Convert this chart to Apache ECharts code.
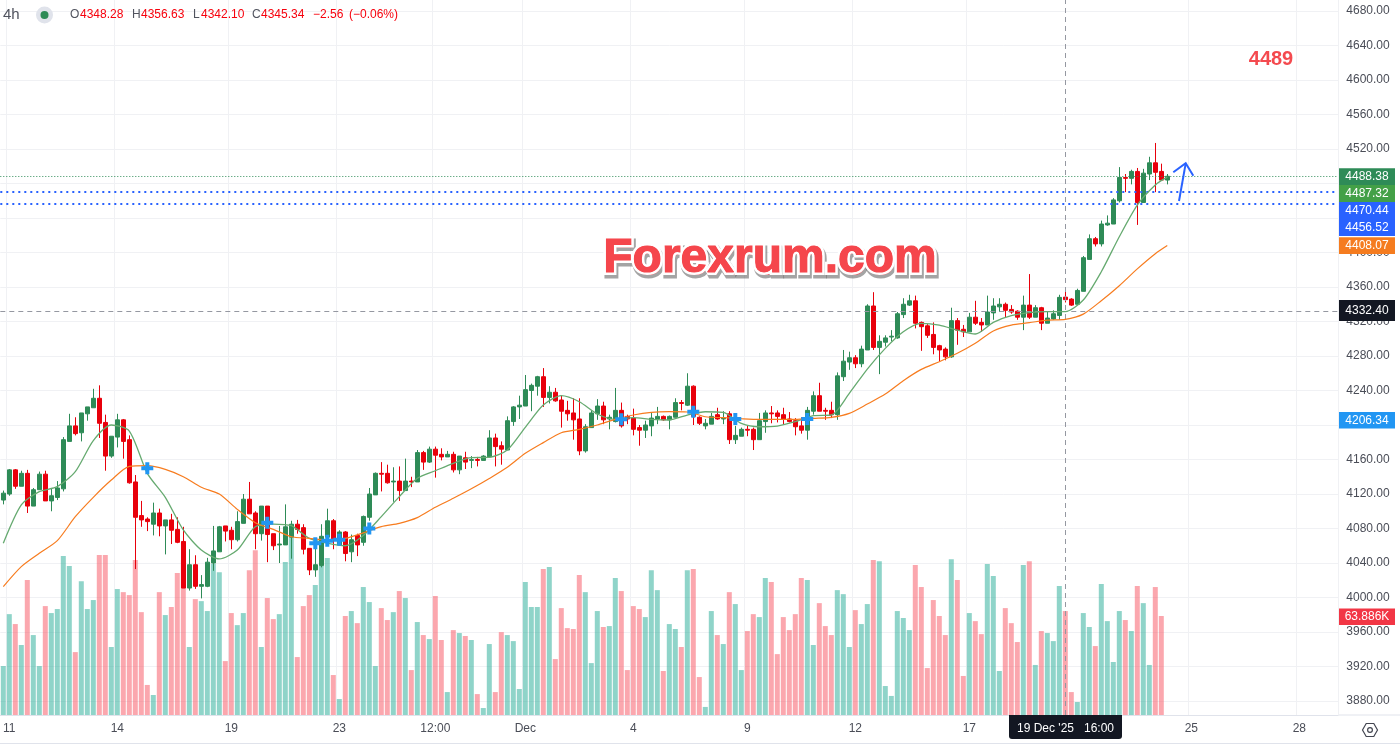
<!DOCTYPE html>
<html lang="en">
<head>
<meta charset="UTF-8">
<title>4h</title>
<script src="https://cdn.jsdelivr.net/npm/echarts@6/dist/echarts.min.js"></script>
<style>
    * { margin: 0; padding: 0 }
    html, body { width: 100%; height: 100%; background: #fff; }
    #main { width: 1400px; height: 748px; }
</style>
</head>
<body>
<div id="main"></div>
<script>
// candles
const opens = [4113,4120,4148,4129,4144,4106,4125,4143,4112,4116,4126,4181,4199,4191,4213,4220,4231,4203,4164,4186,
4206,4183,4134,4095,4091,4085,4098,4083,4090,4079,4065,4011,4038,4013,4013,4040,4053,4083,4078,4067,
4086,4114,4098,4074,4106,4074,4061,4061,4070,4085,4081,4057,4032,4037,4070,4089,4061,4076,4053,4072,
4064,4093,4119,4144,4144,4134,4135,4124,4135,4134,4168,4157,4172,4166,4163,4166,4148,4162,4159,4160,
4159,4163,4185,4176,4171,4204,4221,4222,4240,4245,4256,4232,4238,4229,4217,4214,4207,4170,4197,4213,
4222,4207,4204,4217,4210,4208,4197,4194,4199,4207,4210,4206,4209,4226,4223,4245,4209,4199,4201,4212,
4207,4213,4183,4187,4195,4195,4183,4204,4214,4214,4212,4207,4205,4199,4194,4216,4234,4217,4217,4212,
4256,4273,4278,4271,4287,4338,4290,4296,4302,4301,4328,4339,4344,4319,4315,4305,4292,4288,4279,4321,
4311,4308,4325,4319,4316,4330,4337,4340,4334,4332,4325,4339,4325,4336,4318,4323,4327,4348.28,4346,4340,
4355,4392,4416,4410,4432,4433,4460,4487,4486,4494,4458,4491,4504,4494,4484];
const closes = [4121,4148,4129,4144,4106,4125,4143,4112,4118,4127,4183,4199,4190,4214,4221,4231,4202,4164,4187,4206,
4181,4133,4093,4090,4088,4098,4083,4090,4078,4064,4011,4038,4013,4015,4041,4054,4082,4077,4067,4088,
4114,4097,4074,4106,4073,4060,4062,4082,4085,4079,4056,4032,4038,4071,4089,4068,4076,4051,4067,4061,
4094,4120,4144,4143,4133,4135,4124,4135,4134,4168,4157,4172,4165,4163,4166,4148,4164,4157,4160,4159,
4164,4185,4175,4172,4205,4221,4223,4241,4246,4256,4232,4238,4228,4216,4213,4206,4170,4198,4214,4222,
4206,4209,4217,4199,4207,4195,4194,4200,4208,4210,4206,4210,4226,4225,4245,4210,4202,4202,4210,4207,
4208,4183,4188,4195,4194,4183,4205,4214,4213,4210,4207,4204,4198,4194,4217,4234,4216,4216,4212,4257,
4274,4278,4271,4288,4338,4290,4297,4301,4303,4329,4340,4344,4318,4314,4304,4290,4287,4279,4321,4310,
4308,4325,4318,4316,4331,4338,4340,4333,4331,4325,4339,4325,4336,4318,4324,4329,4348,4345.34,4339,4356,
4394,4416,4410,4433,4434,4461,4487,4486,4494,4458,4492,4504,4493,4484,4488.38];
const lows = [4108,4118,4126,4129,4098,4106,4125,4112,4100,4113,4123,4181,4188,4181,4205,4220,4185,4147,4162,4174,
4161,4132,4033,4082,4077,4072,4071,4050,4062,4063,4011,4008,4010,3999,4012,4031,4053,4065,4056,4065,
4086,4097,4056,4066,4041,4055,4040,4061,4045,4074,4050,4026,4024,4035,4060,4056,4061,4042,4041,4048,
4060,4089,4119,4123,4132,4111,4112,4124,4128,4134,4148,4156,4139,4159,4163,4145,4143,4149,4150,4152,
4159,4163,4152,4154,4171,4199,4207,4222,4216,4234,4221,4225,4227,4197,4205,4183,4165,4168,4197,4206,
4201,4195,4203,4197,4201,4188,4176,4185,4187,4201,4205,4195,4209,4217,4222,4200,4200,4195,4201,4206,
4201,4178,4178,4187,4187,4171,4183,4191,4202,4203,4200,4203,4188,4190,4183,4212,4216,4206,4208,4206,
4251,4264,4266,4267,4287,4287,4259,4291,4297,4300,4324,4338,4312,4286,4301,4282,4274,4275,4278,4293,
4302,4308,4316,4308,4316,4322,4331,4325,4329,4322,4310,4323,4325,4310,4318,4322,4322,4342.10,4338,4339,
4355,4392,4407,4407,4431,4433,4458,4470,4479,4432,4458,4484,4470,4483,4479];
const highs = [4124,4149,4149,4147,4148,4127,4146,4147,4126,4135,4186,4213,4209,4214,4221,4242,4246,4212,4187,4213,
4207,4188,4142,4112,4093,4110,4103,4090,4097,4093,4082,4056,4049,4026,4046,4083,4083,4083,4082,4100,
4120,4134,4100,4106,4106,4074,4083,4108,4089,4090,4085,4057,4067,4085,4103,4091,4078,4077,4073,4074,
4095,4127,4145,4157,4154,4151,4152,4161,4140,4171,4170,4175,4175,4173,4170,4169,4164,4169,4164,4163,
4165,4194,4190,4181,4210,4222,4234,4258,4248,4257,4266,4245,4243,4234,4228,4231,4231,4201,4217,4230,
4227,4212,4243,4226,4212,4219,4200,4205,4214,4221,4211,4211,4231,4229,4260,4246,4210,4207,4214,4220,
4216,4216,4199,4197,4199,4197,4214,4217,4222,4217,4220,4215,4208,4209,4221,4239,4249,4220,4227,4261,
4287,4285,4281,4292,4340,4354,4304,4304,4310,4331,4347,4351,4350,4320,4317,4319,4293,4290,4336,4324,
4316,4330,4344,4324,4350,4347,4347,4342,4339,4333,4350,4375,4339,4337,4332,4333,4351,4356.63,4347,4358,
4396,4421,4418,4437,4443,4463,4499,4491,4496,4498,4497,4511,4527,4503,4491];
// volume in thousands, the last candle has no bar yet
const volumes = [31.6,65.1,58.7,45.2,87.1,51.6,31.6,70.3,65.8,68.4,102.6,96.1,40.6,86.4,68.4,74.2,103.2,103.2,43.9,81.3,
79.3,77.4,100,66.4,19.4,12.9,79.3,64.5,69.7,91.6,100,43.9,74.8,73.5,67.1,97.6,92.2,34.8,65.8,58,
65.8,93.5,106.4,43.9,75.5,61.9,65.1,98.7,114.8,37.4,70.3,77.4,83.9,96.1,101.3,25.8,10.3,63.9,67.1,59.3,
82.6,72.9,31.6,69,61.3,66.4,80,75.5,29,60,51.6,49,76.8,48.4,14.8,54.8,52.9,51,48.4,13.5,
4.5,45.8,14.8,53.5,51.6,47.7,16.8,85.8,69.7,69.7,94.2,95.5,36.1,69,56.1,55.5,90.3,79.3,33.5,67.1,
56.8,57.4,88.4,80,29,70.3,68.4,63.2,93.5,80.6,28.4,58.7,55.5,43.9,93.5,94.2,24.5,5.2,67.1,51.6,
45.8,79.3,71.6,29,54.2,65.1,63.2,88.4,85.8,39.3,63.2,54.8,65.1,88.4,87.1,45.2,72.2,57.4,51.6,80.6,
78,43.9,67.7,58.7,71.6,100,99.3,18.7,12.3,67.1,62.6,54.8,96.8,82.6,30.3,74.2,63.9,51.6,100.6,87.1,
25.2,65.8,60.6,52.2,97.4,89.7,28.4,69,59.3,47.1,96.8,99.3,32.3,54.2,52.9,47.7,83.2,67.1,14.8,8.4,
65.8,56.8,44.5,84.5,60.6,34.2,67.1,61.3,54.2,83.2,72.2,32.3,82.6,63.886,null];

// moving averages, read at these candles
const maCandles = [0,3,6,9,12,15,18,21,24,27,30,33,36,39,42,45,48,51,54,57,60,63,66,69,72,75,78,81,84,87,90,93,96,99,102,105,108,111,114,117,120,123,126,129,132,135,138,141,144,147,150,153,156,159,162,165,168,171,174,177,180,183,186,189,192,194];
const fastMa = [4062.8,4107.3,4122.7,4128.5,4145.9,4181.9,4200,4193,4144,4116.2,4078.3,4055.1,4044.7,4055,4082.1,4085.2,4083.3,4068.6,4063,4060,
4072,4093.8,4117,4138.2,4147,4155.6,4162.2,4162.5,4171,4197.3,4223.2,4234,4227,4212.8,4206.6,4208.5,4206.6,4205.8,4211.6,4215.4,
4214.7,4201.9,4198,4198.8,4203.8,4210.8,4211.6,4236.7,4264.9,4288.9,4308.2,4317.9,4315.9,4310.1,4305.5,4319,4326.7,4330.2,4331.4,4331.4,
4344.9,4377.7,4418.3,4455,4478.2,4487.32];
const slowMa = [4012.6,4035.8,4051.2,4065.9,4093.7,4116.2,4136.2,4152.1,4152.9,4148.6,4140.1,4127.8,4120,4102.2,4086.8,4079,4070.5,4068.6,4066.7,4068.6,
4075,4082.2,4086,4092.6,4104.6,4115,4126,4138,4151,4167.2,4179.6,4191.1,4195,4200,4206.6,4211.6,4214.7,4215.5,4215.1,4209.6,
4208.5,4207.3,4206.5,4206.5,4206.5,4207.7,4208.9,4213.5,4224.3,4235.9,4251.4,4264.5,4273.4,4283.1,4294.7,4309,4315.9,4318.6,4321.7,4322.5,
4328.6,4344.1,4361.5,4381,4398.6,4408.07];

// blue plus signs
const signalCandles = [24,44,52,54,56,61,103,115,122,134];
const signalPrices = [4150,4086.8,4062.8,4065.9,4067,4080,4206.6,4215.5,4207,4207];

// levels
const lastPrice = 4488.38;
const blueLevels = [4470.44,4456.52];
const crossPrice = 4332.40;
const crossCandle = 177;

const priceTicks = [3880,3920,3960,4000,4040,4080,4120,4160,4200,4240,4280,4320,4360,4400,4440,4480,4520,4560,4600,4640,4680];
const timeTickCandles = [1,19,38,56,72,87,105,124,142,161,198,216];
const timeTickLabels = ['11','14','19','23','12:00','Dec','4','9','12','17','25','28'];

const headerParts = ['O','4348.28','H','4356.63','L','4342.10','C','4345.34','\u22122.56','(\u22120.06%)'];
const crossDateLabel = "19 Dec '25   16:00";

const FONT = '"Liberation Sans", Arial, sans-serif';
const UP = '#2e8b57', DOWN = '#e8000b';
const GRID = '#f0f1f4', TEXT = '#4a4d57';

var slots = 223;
var categories = [];
for (let i = 0; i < slots; i++) {
    let k = timeTickCandles.indexOf(i);
    categories.push(k >= 0 ? timeTickLabels[k] : '');
}
var isTimeTick = function (i) { return timeTickCandles.indexOf(i) >= 0; };

var candleData = opens.map(function (o, i) { return [o, closes[i], lows[i], highs[i]]; });
var volumeData = volumes.map(function (v, i) {
    return {
        value: v,
        itemStyle: {color: closes[i] >= opens[i] ? 'rgba(31,169,147,0.5)' : 'rgba(247,86,99,0.52)'}
    };
});
var pairs = function (list) { return list.map(function (v, k) { return [maCandles[k], v]; }); };

// right scale tags
function tag(text, top, bottom, color, z) {
    return [
        {type: 'rect', z: z, shape: {x: 1339, y: top, width: 56, height: bottom - top}, style: {fill: color}},
        {type: 'text', z: z + 1, x: 1367, y: (top + bottom) / 2, style: {text: text, fill: '#fff', font: '12px ' + FONT, align: 'center', verticalAlign: 'middle'}}
    ];
}

function watermark(stroke, lineWidth, dx, dy, blur, z) {
    return {type: 'text', z: z, x: 770 + dx, y: 259 + dy, style: {
        text: 'Forexrum.com', fill: '#f5464c', font: 'bold 48px ' + FONT, align: 'center', verticalAlign: 'middle',
        stroke: stroke, lineWidth: lineWidth, shadowColor: blur ? stroke : 'transparent', shadowBlur: blur
    }};
}

var graphics = [].concat(
    tag('4206.34', 412, 428.5, '#2196f3', 50),
    tag('4332.40', 300, 321, '#131722', 50),
    tag('4408.07', 237.3, 254, '#f57c1f', 50),
    tag('4456.52', 219, 236, '#2962ff', 50),
    tag('4470.44', 202, 219, '#2962ff', 52),
    tag('4487.32', 185, 202, '#43a047', 54),
    tag('4488.38', 168.3, 185, UP, 56),
    tag('63.886K', 608.5, 625, '#f23645', 50),
    [
        // date tag of the crosshair
        {type: 'rect', z: 50, shape: {x: 1009, y: 715, width: 113, height: 24, r: [0, 0, 3, 3]}, style: {fill: '#131722'}},
        {type: 'text', z: 51, x: 1065.5, y: 729, style: {text: crossDateLabel, fill: '#fff', font: '12px ' + FONT, align: 'center', verticalAlign: 'middle'}},
        // bottom rules
        {type: 'line', z: 1, shape: {x1: 1339, y1: 715, x2: 1400, y2: 715}, style: {stroke: '#e0e3eb', lineWidth: 1}},
        {type: 'line', z: 1, shape: {x1: 0, y1: 743.5, x2: 1400, y2: 743.5}, style: {stroke: '#e0e3eb', lineWidth: 1}},
        // settings button
        {type: 'polygon', z: 5, shape: {points: [[1362.5, 730], [1366.2, 723.5], [1373.8, 723.5], [1377.5, 730], [1373.8, 736.5], [1366.2, 736.5]]}, style: {fill: 'none', stroke: '#434651', lineWidth: 1.2}},
        {type: 'circle', z: 5, shape: {cx: 1370, cy: 730, r: 2.4}, style: {fill: 'none', stroke: '#434651', lineWidth: 1.2}},
        // legend line
        {type: 'text', z: 20, x: 3, y: 15, style: {text: '4h', fill: '#50535e', font: '15px ' + FONT, verticalAlign: 'middle'}},
        {type: 'circle', z: 20, shape: {cx: 44.5, cy: 15, r: 8.5}, style: {fill: '#e0e3eb'}},
        {type: 'circle', z: 21, shape: {cx: 44.5, cy: 15, r: 4}, style: {fill: UP}},
        // hand drawn arrow
        {type: 'polyline', z: 30, shape: {points: [[1179, 201], [1185.7, 163.3]]}, style: {stroke: '#2962ff', lineWidth: 2, fill: 'none'}},
        {type: 'polyline', z: 30, shape: {points: [[1173.3, 172.3], [1185.7, 163.3], [1193.3, 175.7]]}, style: {stroke: '#2962ff', lineWidth: 2, fill: 'none'}},
        // big labels
        {type: 'text', z: 30, x: 1271, y: 59, style: {text: '4489', fill: '#f44a4f', font: 'bold 20px ' + FONT, align: 'center', verticalAlign: 'middle'}},
        // watermark: soft grey shadow, white outline, red letters
        watermark('rgba(90,90,90,0.55)', 7, 1.5, 2.5, 3, 30),
        watermark('#ffffff', 6, 0, 0, 0, 31),
        watermark('#f5464c', 1, 0, 0, 0, 32)
    ]
);

var headerX = [70, 80, 132, 141, 193, 201, 252, 261, 313, 349];
headerParts.forEach(function (t, k) {
    var isLetter = k < 8 && k % 2 === 0;
    graphics.push({type: 'text', z: 20, x: headerX[k], y: 15, style: {text: t, fill: isLetter ? '#50535e' : '#f7000c', font: '12px ' + FONT, verticalAlign: 'middle'}});
});

var myChart = echarts.init(document.getElementById('main'));

option = {
    animation: false,
    backgroundColor: '#fff',
    grid: {left: 0.3, top: 0, width: 1338, height: 715, containLabel: false},
    xAxis: {
        type: 'category',
        data: categories,
        boundaryGap: true,
        axisLine: {lineStyle: {color: '#e0e3eb'}},
        axisTick: {show: false},
        axisLabel: {interval: function (i) { return isTimeTick(i); }, color: TEXT, fontFamily: FONT, fontSize: 12, margin: 8, hideOverlap: false},
        splitLine: {show: true, interval: function (i) { return isTimeTick(i); }, lineStyle: {color: GRID}}
    },
    yAxis: [
        {
            type: 'value',
            position: 'right',
            min: 3863.8,
            max: 4692.75,
            axisLine: {show: false},
            axisTick: {show: false, customValues: priceTicks},
            axisLabel: {
                customValues: priceTicks, color: TEXT, fontFamily: FONT, fontSize: 12, margin: 8,
                formatter: function (v) { return v.toFixed(2); }
            },
            splitLine: {show: true, lineStyle: {color: GRID}}
        },
        {type: 'value', show: false, min: 0, max: 461.5, splitLine: {show: false}}
    ],
    series: [
        {
            name: 'volume', type: 'bar', yAxisIndex: 1, data: volumeData, barWidth: 5, z: 1, silent: true
        },
        {
            name: 'price', type: 'candlestick', data: candleData, barWidth: 5, z: 2, silent: true,
            itemStyle: {color: UP, color0: DOWN, borderColor: UP, borderColor0: DOWN, borderWidth: 1},
            markLine: {
                silent: true, symbol: 'none', label: {show: false}, z: 3,
                data: [
                    {yAxis: lastPrice, lineStyle: {color: UP, type: [1, 2], width: 1}},
                    {yAxis: blueLevels[0], lineStyle: {color: '#2962ff', type: [2, 4], width: 2}},
                    {yAxis: blueLevels[1], lineStyle: {color: '#2962ff', type: [2, 4], width: 2}},
                    {yAxis: crossPrice, lineStyle: {color: '#9598a1', type: [5, 4], width: 1}},
                    {xAxis: crossCandle, lineStyle: {color: '#9598a1', type: [5, 4], width: 1}}
                ]
            }
        },
        {
            name: 'fast', type: 'line', data: pairs(fastMa), smooth: 0.25, showSymbol: false, z: 4, silent: true,
            lineStyle: {color: '#66aa70', width: 1.3}
        },
        {
            name: 'slow', type: 'line', data: pairs(slowMa), smooth: 0.25, showSymbol: false, z: 4, silent: true,
            lineStyle: {color: '#f77c1f', width: 1.2}
        },
        {
            name: 'signal', type: 'scatter', z: 5, silent: true,
            data: signalCandles.map(function (c, k) { return [c, signalPrices[k]]; }),
            symbol: 'path://M4 0h4v4h4v4h-4v4h-4v-4h-4v-4h4z', symbolSize: 12,
            itemStyle: {color: '#2196f3', opacity: 1}
        }
    ],
    graphic: graphics
};

myChart.setOption(option);
</script>
</body>
</html>
